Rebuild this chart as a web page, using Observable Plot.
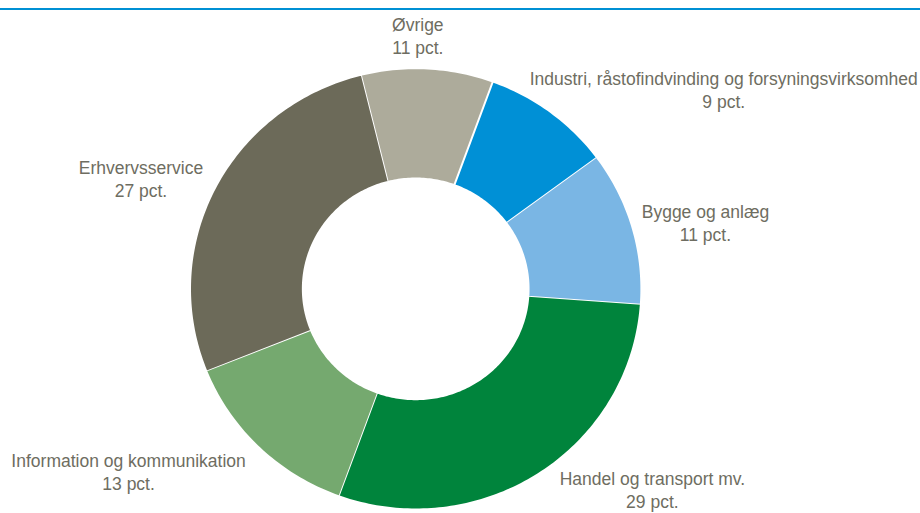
<!DOCTYPE html>
<html>
<head>
<meta charset="utf-8">
<script src="https://cdn.jsdelivr.net/npm/d3@7"></script>
<script src="https://cdn.jsdelivr.net/npm/@observablehq/plot@0.6"></script>
<style>
  html, body { margin: 0; padding: 0; background: #ffffff; }
  #rule { width: 920px; height: 8px; border-bottom: 2px solid #0090d4; }
  #chart { width: 920px; height: 503px; overflow: hidden; }
</style>
</head>
<body>
<div id="rule"></div>
<div id="chart"></div>
<script>
// ---- data ----
const categories = [
  "Industri, råstofindvinding og forsyningsvirksomhed",
  "Bygge og anlæg",
  "Handel og transport mv.",
  "Information og kommunikation",
  "Erhvervsservice",
  "Øvrige"
];
const shares = [9.3, 11.3, 29.4, 13.4, 27.2, 9.4];          // share of the ring as drawn
const pctLabels = ["9 pct.", "11 pct.", "29 pct.", "13 pct.", "27 pct.", "11 pct."]; // printed labels
const colors = ["#0090d6", "#7ab6e4", "#00843c", "#75a96f", "#6c6a59", "#adab9b"];

// ---- layout ----
const startDeg = 20;          // first slice starts 20° clockwise from 12 o'clock
const innerRatio = 0.5;       // hole radius / outer radius
const xRange = [189.5, 640.9];
const yRange = [499, 57.7];
const labelOffsets = [[173, -23], [73, -5], [114, 15], [-130, 24], [-74, -10], [-10, -33]]; // px nudges from slice mid-point on the rim

const kx = (xRange[1] - xRange[0]) / 2;
const ky = (yRange[0] - yRange[1]) / 2;

const arcs = d3.pie().sort(null).value(d => d)
  .startAngle(startDeg * Math.PI / 180)
  .endAngle(startDeg * Math.PI / 180 + 2 * Math.PI)(shares);

// polygon outline for each slice (outer arc forward, inner arc back)
const ringPoints = [];
arcs.forEach((a, i) => {
  const key = categories[i];
  const n = Math.max(2, Math.ceil((a.endAngle - a.startAngle) * 180 / Math.PI));
  for (let j = 0; j <= n; j++) {
    const t = a.startAngle + (a.endAngle - a.startAngle) * j / n;
    ringPoints.push({key, x: Math.sin(t), y: Math.cos(t)});
  }
  for (let j = n; j >= 0; j--) {
    const t = a.startAngle + (a.endAngle - a.startAngle) * j / n;
    ringPoints.push({key, x: innerRatio * Math.sin(t), y: innerRatio * Math.cos(t)});
  }
});

const labelData = arcs.map((a, i) => {
  const mid = (a.startAngle + a.endAngle) / 2;
  return {
    key: categories[i],
    x: Math.sin(mid) + labelOffsets[i][0] / kx,
    y: Math.cos(mid) - labelOffsets[i][1] / ky,
    text: categories[i] + "\n" + pctLabels[i]
  };
});

const chart = Plot.plot({
  width: 920,
  height: 503,
  marginTop: 0, marginRight: 0, marginBottom: 0, marginLeft: 0,
  x: {domain: [-1, 1], range: xRange, axis: null},
  y: {domain: [-1, 1], range: yRange, axis: null},
  color: {domain: categories, range: colors},
  style: {background: "#ffffff", fontFamily: "'Liberation Sans', Arial, sans-serif", overflow: "visible"},
  marks: [
    Plot.line(ringPoints, {
      x: "x", y: "y", z: "key", fill: "key",
      stroke: "#ffffff", strokeWidth: 2, strokeLinejoin: "round", curve: "linear"
    }),
    Plot.text(labelData, {
      x: "x", y: "y", text: "text",
      fill: "#6e6d61", fontSize: 17.5, lineHeight: 1.32,
      textAnchor: "middle", fontFamily: "'Liberation Sans', Arial, sans-serif"
    })
  ]
});
document.getElementById("chart").appendChild(chart);
</script>
</body>
</html>
